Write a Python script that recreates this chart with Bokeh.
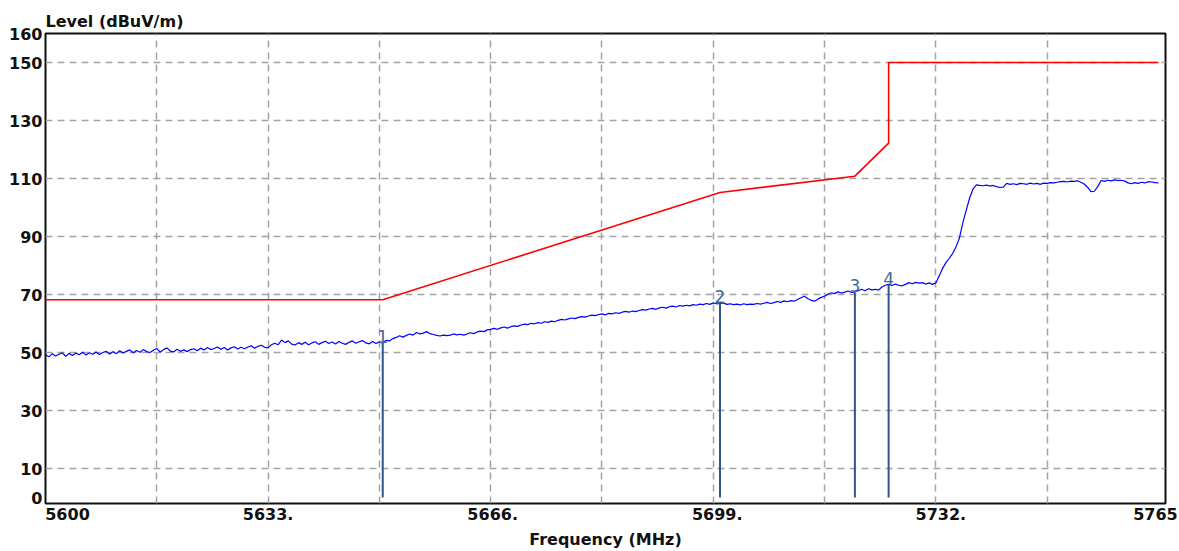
import numpy as np
from bokeh.plotting import figure
from bokeh.models import Range1d, FixedTicker, Grid
from bokeh.core.properties import value
from bokeh.embed import file_html
from bokeh.resources import INLINE

# ---------------- data ----------------
freq_start = 5600.0
freq_stop = 5765.0
# measured level (dBuV/m), sweep points every 0.5 MHz from 5600 to 5765 MHz
level = [
    49.2, 48.5, 49.6, 48.8, 49.4, 49.9, 48.7, 49.7, 49.0, 49.8,
    49.2, 50.1, 49.1, 49.9, 49.4, 50.2, 49.3, 50.0, 50.4, 49.5,
    50.3, 49.6, 50.6, 49.8, 50.4, 50.9, 49.9, 50.7, 50.1, 51.0,
    50.3, 50.0, 50.8, 51.4, 50.1, 51.0, 51.6, 50.5, 50.2, 51.1,
    50.4, 50.9, 50.3, 51.0, 51.3, 50.6, 51.5, 50.9, 51.7, 51.0,
    51.4, 51.9, 51.1, 51.7, 50.9, 51.6, 52.0, 51.2, 51.8, 51.3,
    51.9, 52.3, 51.5, 52.1, 52.5, 51.8, 51.6, 52.7, 53.2, 52.7,
    54.3, 53.4, 54.0, 52.9, 52.6, 53.4, 52.8, 53.5, 52.7, 53.3,
    53.7, 52.8, 53.4, 53.9, 53.1, 53.6, 52.9, 53.8, 53.2, 52.8,
    53.5, 54.0, 53.2, 53.7, 54.1, 53.3, 53.0, 53.8, 53.1, 53.6,
    53.3, 54.2, 54.0, 54.8, 55.2, 55.8, 55.3, 55.9, 56.4, 56.0,
    56.9, 56.4, 56.7, 57.2, 56.5, 56.2, 55.9, 55.7, 56.0, 55.8,
    56.0, 56.4, 56.1, 56.3, 56.0, 56.4, 56.8, 56.5, 57.1, 57.4,
    57.2, 57.8, 58.0, 58.3, 58.0, 58.5, 58.8, 58.4, 58.9, 59.2,
    59.0, 59.5, 59.8, 59.6, 60.1, 59.9, 60.3, 60.1, 60.6, 60.4,
    60.8, 60.6, 61.1, 61.4, 61.2, 61.6, 61.9, 61.7, 62.1, 62.4,
    62.2, 62.6, 62.9, 62.7, 63.1, 63.3, 63.0, 63.5, 63.3, 63.7,
    63.5, 63.9, 64.2, 63.9, 64.3, 64.1, 64.5, 64.8, 64.6, 65.0,
    65.2, 64.9, 65.4, 65.6, 65.3, 65.8, 66.0, 65.7, 66.2, 66.0,
    66.3, 66.1, 66.5, 66.3, 66.7, 66.5, 66.9, 66.6, 67.1, 66.8,
    66.9, 67.1, 66.6, 66.8, 66.5, 66.7, 66.4, 66.8, 66.5, 66.7,
    66.6, 66.9, 66.7, 67.0, 67.3, 66.9, 67.2, 67.6, 67.3, 67.8,
    67.5, 67.9, 67.7, 68.3, 68.9, 69.4, 68.6, 68.0, 67.7, 68.4,
    69.0, 69.4, 70.1, 70.6, 70.3, 70.9, 70.5, 70.8, 71.2, 70.7,
    70.9, 71.3, 71.8, 71.3, 72.0, 71.6, 71.8, 71.5, 72.6, 73.2,
    73.5, 73.1, 73.6, 73.2, 73.0, 73.5, 74.1, 73.7, 74.2, 73.9,
    74.1, 73.6, 74.0, 73.5, 74.0, 76.5, 79.0, 81.0, 82.5, 84.2,
    86.5, 89.5, 94.7, 99.0, 103.2, 106.3, 107.8, 107.6, 107.5, 107.7,
    107.4, 107.6, 107.2, 106.9, 107.0, 108.3, 108.0, 108.2, 107.9, 108.3,
    108.2, 108.0, 108.4, 108.1, 108.3, 108.0, 108.4, 108.3, 108.6, 108.5,
    108.7, 108.9, 109.0, 108.8, 109.1, 109.0, 109.2, 108.7, 108.1, 107.0,
    105.5, 105.6, 107.2, 109.3, 109.0, 109.4, 109.2, 109.5, 109.3, 109.4,
    109.1, 108.5, 108.2, 108.6, 108.3, 108.7, 108.5, 108.9, 108.8, 108.6,
    108.5,
]
freq = np.linspace(freq_start, freq_stop, len(level))

# limit line
limit_freq = [5600, 5650, 5700, 5720, 5725, 5725, 5765]
limit_level = [68.2, 68.2, 105.2, 110.8, 122.2, 150.0, 150.0]

# markers
marker_names = ["1", "2", "3", "4"]
marker_freq = [5650, 5700, 5720, 5725]
marker_level = [53.4, 66.9, 70.7, 73.4]
marker_base = [0, 0, 0, 0]

# axes
ytick_values = [0, 10, 30, 50, 70, 90, 110, 130, 150, 160]
ygrid_values = [10, 30, 50, 70, 90, 110, 130, 150]
xtick_values = [5600, 5633, 5666, 5699, 5732, 5765]
xtick_labels = ["5600", "5633.", "5666.", "5699.", "5732.", "5765"]
xgrid_values = [5616.5, 5633, 5649.5, 5666, 5682.5, 5699, 5715.5, 5732, 5748.5]
y_title = "Level (dBuV/m)"
x_title = "Frequency (MHz)"

# ---------------- layout / style ----------------
FONT = "DejaVu Sans"
TXT = "#111111"
W, H = 1179, 551
LEFT, RIGHT, TOP, BOTTOM = 45, 14, 33, 47
X_END = 5766.05
Y_START = -2.065
px_per_mhz = (W - LEFT - RIGHT) / (X_END - freq_start)
# small horizontal nudges (px) of tick labels, as in the reference
label_shift_px = [22, 0, 2, 4, 5, -3]
label_pos = [round(v + s / px_per_mhz, 3) for v, s in zip(xtick_values, label_shift_px)]

p = figure(width=W, height=H, output_backend="svg", toolbar_location=None,
           x_range=Range1d(freq_start, X_END), y_range=Range1d(Y_START, 160),
           min_border_left=LEFT, min_border_right=RIGHT,
           min_border_top=TOP, min_border_bottom=BOTTOM,
           title=y_title)
p.background_fill_color = "white"
p.border_fill_color = "white"
p.outline_line_color = "#111111"
p.outline_line_width = 2

p.title.align = "left"
p.title.standoff = 5
p.title.text_font = FONT
p.title.text_font_style = "bold"
p.title.text_font_size = "16px"
p.title.text_color = TXT

for g in p.xgrid:
    g.visible = False
for g in p.ygrid:
    g.visible = False

p.add_layout(Grid(dimension=0, ticker=FixedTicker(ticks=xgrid_values),
                  grid_line_color="#a3a3a3", grid_line_dash="7 5", grid_line_width=1.5))
p.add_layout(Grid(dimension=1, ticker=FixedTicker(ticks=ygrid_values),
                  grid_line_color="#a3a3a3", grid_line_dash="7 5", grid_line_width=1.5))

ya = p.yaxis[0]
ya.ticker = FixedTicker(ticks=ytick_values)
ya.axis_line_color = None
ya.major_tick_in = 0
ya.major_tick_out = 0
ya.minor_tick_line_color = None
ya.major_label_standoff = 3
ya.major_label_text_font = FONT
ya.major_label_text_font_style = "bold"
ya.major_label_text_font_size = "16px"
ya.major_label_text_color = TXT

xa = p.xaxis[0]
xa.ticker = FixedTicker(ticks=label_pos)
xa.major_label_overrides = {pos: lab for pos, lab in zip(label_pos, xtick_labels)}
xa.axis_line_color = None
xa.major_tick_in = 0
xa.major_tick_out = 0
xa.minor_tick_line_color = None
xa.major_label_standoff = 4
xa.major_label_text_font = FONT
xa.major_label_text_font_style = "bold"
xa.major_label_text_font_size = "16px"
xa.major_label_text_color = TXT
xa.axis_label = x_title
xa.axis_label_standoff = 7
xa.axis_label_text_font = FONT
xa.axis_label_text_font_style = "bold"
xa.axis_label_text_font_size = "16px"
xa.axis_label_text_color = TXT

# traces
p.line(freq, level, line_color="#0000ff", line_width=1.2)
p.line(limit_freq, limit_level, line_color="#ff0000", line_width=1.6)
p.segment(x0=marker_freq, y0=marker_base, x1=marker_freq, y1=marker_level,
          line_color="#2f5888", line_width=2)
p.text(x=marker_freq, y=marker_level, text=marker_names,
       text_align="center", text_baseline="bottom",
       text_font=value(FONT), text_font_size="17px", text_color="#3f6a98")

open("out.html", "w").write(file_html(p, INLINE))
